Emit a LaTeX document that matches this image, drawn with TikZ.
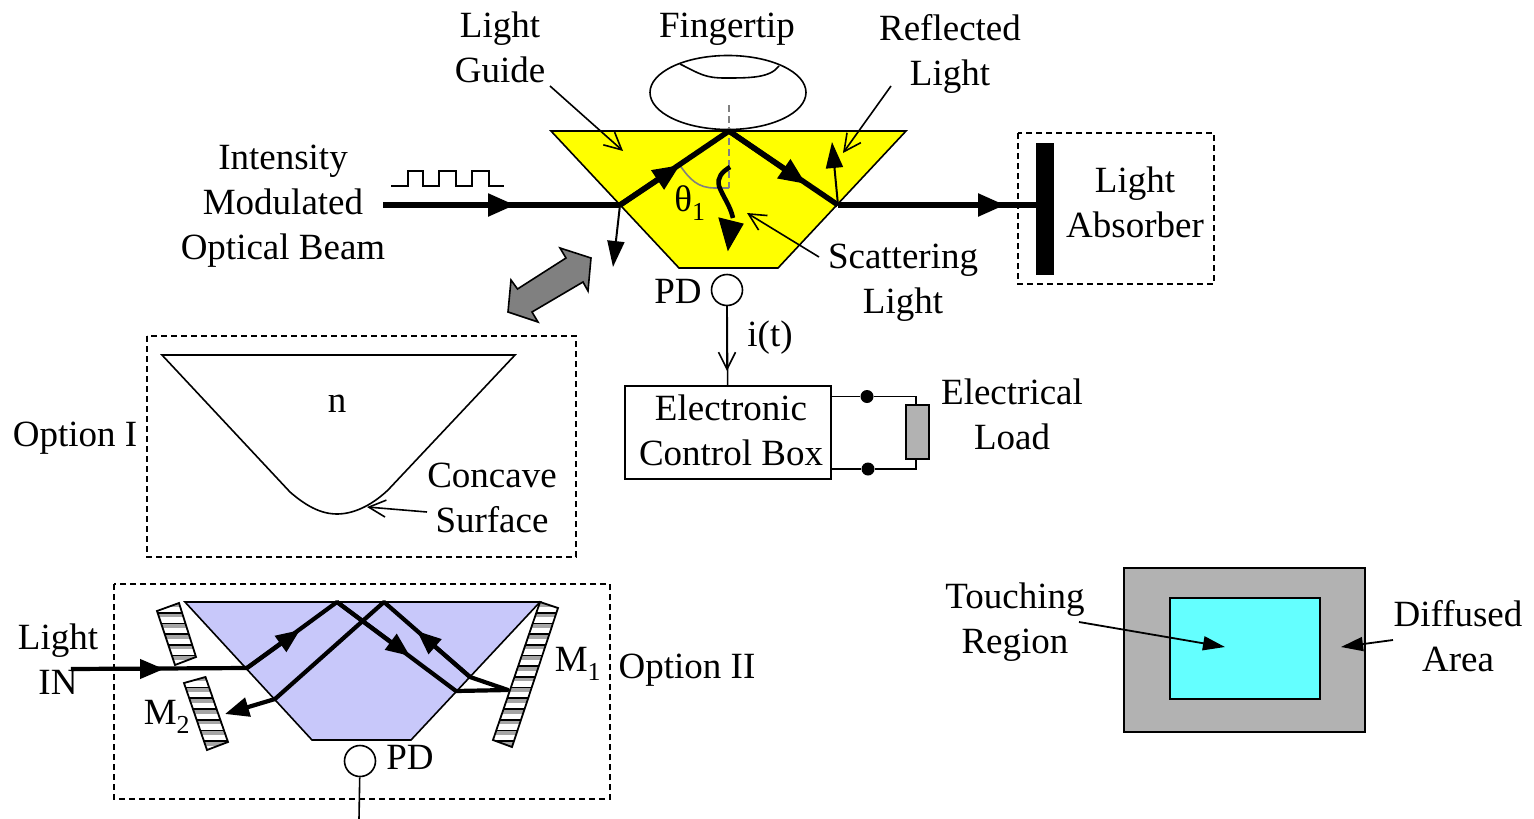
\documentclass[tikz,border=0pt]{standalone}
\usepackage{fontspec}
\setmainfont{Liberation Serif}
\usetikzlibrary{
  positioning,
  shapes.geometric,
  arrows.meta
}
\definecolor{guideyellow}{RGB}{255,255,0}
\definecolor{guideblue}{RGB}{200,200,250}
\definecolor{regioncyan}{RGB}{100,255,255}
\definecolor{areagray}{RGB}{178,178,178}
\tikzstyle{openarrow} = [line width=1.6pt,-{Straight Barb[length=17pt,width=17pt]}]
\newcommand{\mirrorbar}[4]{%
  \begin{scope}
    \clip #1 -- #2 -- #3 -- #4 -- cycle;
    \foreach \yy in {602,612.7,...,770} {
      \fill[black!35] (100,\yy) rectangle (600,\yy+4.5);
      \draw[line width=1.7pt,black] (100,\yy) -- (600,\yy);
    }
  \end{scope}
  \draw[line width=1.8pt] #1 -- #2 -- #3 -- #4 -- cycle;
}

\begin{document}
\begin{tikzpicture}[
x=1pt,y=-1pt,
textlabel/.style={font=\fontsize{37}{45}\selectfont, align=center, inner sep=0pt},
thinline/.style={line width=1.6pt},
ray/.style={line width=5.4pt},
rayb/.style={line width=4.2pt},
raytip/.style={-{Triangle[length=27pt,width=22pt]}},
raytipb/.style={-{Triangle[length=24pt,width=19pt]}},
smalltip/.style={line width=2pt,-{Triangle[length=26pt,width=17pt]}},
areatip/.style={line width=1.8pt,-{Triangle[length=22pt,width=14pt]}},
dashbox/.style={line width=1.5pt, dash pattern=on 6pt off 4pt},
pdnode/.style={circle, draw, line width=1.6pt, minimum size=31pt, inner sep=0pt},
dotnode/.style={circle, fill=black, minimum size=13pt, inner sep=0pt},
]
\useasboundingbox (0,0) rectangle (1534,819);

%Boxes
\draw[dashbox] (1018,133) rectangle (1214,284);
\draw[dashbox] (147,336) rectangle (576,557);
\draw[dashbox] (114,584) rectangle (610,799);

%Top guide
\coordinate (gtl) at (551,131);
\coordinate (gtr) at (906,131);
\coordinate (gbr) at (778,268);
\coordinate (gbl) at (679,268);
\coordinate (beamin) at (383,205);
\coordinate (beamtip) at (515,205);
\coordinate (hitl) at (620,205);
\coordinate (apex) at (729,131);
\coordinate (hitr) at (838,205);
\coordinate (uptip) at (680,165);
\coordinate (downtip) at (806,184);
\coordinate (outtip) at (1005,205);
\coordinate (barmid) at (1040,205);
\coordinate (reflup) at (832,142);
\coordinate (refldown) at (613,267);
\draw[line width=1.6pt, fill=guideyellow] (gtl) -- (gtr) -- (gbr) -- (gbl) -- cycle;

%Fingertip
\node[draw, ellipse, line width=1.6pt, minimum width=156pt, minimum height=74pt, inner sep=0pt] (finger) at (728,92.5) {};
\draw[thinline] (680,64) .. controls (700,74) and (705,78) .. (725,78) .. controls (750,78) and (770,78) .. (779,66);
\draw[line width=1.5pt, gray, dash pattern=on 7pt off 4pt] (729,105) -- (729,188);
\draw[line width=1.6pt, gray] (679,164) .. controls (690,180) and (698,188) .. (715,188) -- (729,188);

%Rays
\fill (1036,143) rectangle (1054,275);
\draw[ray] (beamin) -- (hitl);
\draw[ray,raytip] (beamin) -- (beamtip);
\draw[ray,line join=round] (hitl) -- (apex) -- (hitr);
\draw[ray,raytip] (hitl) -- (uptip);
\draw[ray,raytip] (apex) -- (downtip);
\draw[ray] (hitr) -- (barmid);
\draw[ray,raytip] (hitr) -- (outtip);
\draw[smalltip] (hitr) -- (reflup);
\draw[smalltip] (hitl) -- (refldown);
\coordinate (scatstart) at (730,167);
\coordinate (scatend) at (728,250);
\draw[line width=4.6pt] (scatstart) .. controls (722,172) and (717,177) .. (719,186) .. controls (723,197) and (730,205) .. (733,218);
\draw[line width=1pt,fill=black] (728,250) -- (719,218) -- (743,224) -- cycle;

%Pulses
\draw[line width=1.5pt] (391,186) -- (408,186) -- (408,171) -- (423,171) -- (423,186) -- (439,186) -- (439,171) -- (456,171) -- (456,186) -- (472,186) -- (472,171) -- (489,171) -- (489,186) -- (504,186);

%Gray double arrow
\draw[line width=1.6pt, fill=black!50] (591,258) -- (560,248) -- (566,258) -- (517.5,289) -- (511,280) -- (508,312) -- (538,322) -- (532,312) -- (583,282) -- (588,291) -- cycle;

%PD and control box
\node[pdnode] (pd) at (727,290) {};
\node[draw, line width=1.8pt, minimum width=206pt, minimum height=93pt, inner sep=0pt] (ctrl) at (728,432.5) {};
\node[textlabel] (ctrltxt) at (731,430) {Electronic\\Control Box};
\draw[thinline] (pd) -- (ctrl);
\coordinate (itip) at (727,371);
\draw[openarrow] (pd) -- (itip);
\node[draw, line width=1.8pt, fill=areagray, minimum width=23pt, minimum height=54pt, inner sep=0pt] (load) at (917.5,432) {};
\coordinate (ctrla) at (ctrl.east |- 0,396.5);
\coordinate (ctrlb) at (ctrl.east |- 0,469);
\node[dotnode] (dota) at (867,396.5) {};
\node[dotnode] (dotb) at (868,469) {};
\draw[thinline] (ctrla) -- (dota) -- (916,396.5) -- (load.north -| 916,0);
\draw[thinline] (ctrlb) -- (dotb) -- (916,469) -- (load.south -| 916,0);

%Touch pad
\node[draw, line width=1.6pt, fill=areagray, minimum width=241pt, minimum height=164pt, inner sep=0pt] (area) at (1244.5,650) {};
\node[draw, line width=1.6pt, fill=regioncyan, minimum width=150pt, minimum height=101pt, inner sep=0pt] (region) at (1245,648.5) {};
\coordinate (regiontip) at (1225,647);
\coordinate (areaend) at (1341,647);

%Option I
\coordinate (otl) at (162,355);
\coordinate (otr) at (515,355);
\draw[thinline] (otl) -- (otr) -- (388,490) .. controls (370,507) and (352,514) .. (337,514) .. controls (320,514) and (305,505) .. (290,492) -- cycle;

%Option II
\coordinate (btl) at (185,602);
\coordinate (btr) at (540,602);
\coordinate (bbr) at (411,740);
\coordinate (bbl) at (312,740);
\draw[line width=1.6pt, fill=guideblue] (btl) -- (btr) -- (bbr) -- (bbl) -- cycle;
\mirrorbar{(540,602)}{(558,608)}{(512,747)}{(493,740)}
\mirrorbar{(157,611)}{(179,603)}{(196,657)}{(175,665)}
\mirrorbar{(184,683)}{(205.5,677)}{(228,742)}{(207,750)}
\coordinate (inl) at (71,669);
\coordinate (inltip) at (164,669);
\coordinate (ina) at (247,668);
\coordinate (inb) at (337,602);
\coordinate (inc) at (456,691);
\coordinate (ind) at (508,690);
\coordinate (ine) at (470,677);
\coordinate (inf) at (384,602);
\coordinate (ing) at (275,699);
\coordinate (inh) at (225,714);
\coordinate (tipa) at (300,630);
\coordinate (tipb) at (410,656);
\coordinate (tipc) at (417,631);
\draw[rayb] (inl) -- (ina);
\draw[rayb,raytipb] (inl) -- (inltip);
\draw[rayb,line join=round] (ina) -- (inb) -- (inc) -- (ind) -- (ine) -- (inf) -- (ing);
\draw[rayb,raytipb] (ina) -- (tipa);
\draw[rayb,raytipb] (inb) -- (tipb);
\draw[rayb,raytipb] (ine) -- (tipc);
\draw[rayb,raytipb] (ing) -- (inh);
\node[pdnode] (pdb) at (360,761) {};
\coordinate (pdend) at (359,819);
\draw[thinline] (pdb) -- (pdend);

%Labels
\node[textlabel] (guidetxt) at (500,47) {Light\\Guide};
\node[textlabel] (fingertxt) at (727,29) {Fingertip};
\node[textlabel] (refltxt) at (950,54) {Reflected\\Light};
\node[textlabel] (beamtxt) at (283,206) {Intensity\\Modulated\\Optical Beam};
\node[textlabel] (thetatxt) at (690,203) {θ\textsubscript{1}};
\node[textlabel] (scattxt) at (903,283) {Scattering\\Light};
\node[textlabel] (absorbtxt) at (1135,202) {Light\\Absorber};
\node[textlabel] (pdtxt) at (678,291) {PD};
\node[textlabel] (itxt) at (770,338) {i(t)};
\node[textlabel] (loadtxt) at (1012,414) {Electrical\\Load};
\node[textlabel] (optatxt) at (75,438) {Option I};
\node[textlabel] (ntxt) at (337,404) {n};
\node[textlabel] (concavetxt) at (492,498) {Concave\\Surface};
\node[textlabel] (touchtxt) at (1015,622) {Touching\\Region};
\node[textlabel] (difftxt) at (1458,636) {Diffused\\Area};
\node[textlabel] (lighttxt) at (58,659) {Light\\IN};
\node[textlabel] (moneatxt) at (578,664) {M\textsubscript{1}};
\node[textlabel] (mtwotxt) at (167,717) {M\textsubscript{2}};
\node[textlabel] (optbtxt) at (687,670) {Option II};
\node[textlabel] (pdbtxt) at (410,757) {PD};

%Lines
\coordinate (guidefrom) at (550,86);
\coordinate (guidetip) at (623,151);
\coordinate (reflfrom) at (891,86);
\coordinate (refltip) at (843,153);
\coordinate (scatfrom) at (819,257);
\coordinate (scattip) at (747,213);
\coordinate (concavefrom) at (427,512);
\coordinate (concavetip) at (367,507);
\coordinate (touchfrom) at (1079,622);
\coordinate (difffrom) at (1393,640);
\draw[openarrow] (guidefrom) -- (guidetip);
\draw[openarrow] (reflfrom) -- (refltip);
\draw[openarrow] (scatfrom) -- (scattip);
\draw[openarrow] (concavefrom) -- (concavetip);
\draw[areatip] (touchfrom) -- (regiontip);
\draw[areatip] (difffrom) -- (areaend);
\end{tikzpicture}
\end{document}
